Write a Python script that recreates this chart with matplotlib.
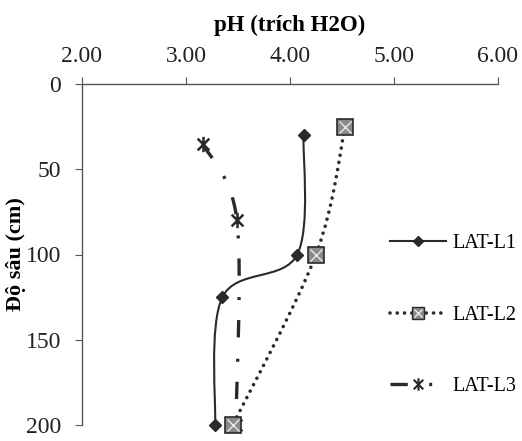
import matplotlib
matplotlib.use("Agg")
import matplotlib.pyplot as plt
from matplotlib.path import Path
from matplotlib.patches import PathPatch
from matplotlib.lines import Line2D
import numpy as np

# depth (cm) and pH
depth_l1 = [30, 100, 125, 200]
ph_l1 = [4.13, 4.07, 3.35, 3.28]
depth_l2 = [25, 100, 200]
ph_l2 = [4.53, 4.25, 3.45]
depth_l3 = [35, 80, 200]
ph_l3 = [3.16, 3.49, 3.48]
names = ["LAT-L1", "LAT-L2", "LAT-L3"]

xticks = [2, 3, 4, 5, 6]
yticks = [0, 50, 100, 150, 200]

plt.rcParams["font.family"] = ["Liberation Serif", "DejaVu Serif"]
ink = "#2a2a2a"


def smooth_path(x, y):
    # excel style smoothed line: cubic bezier through the points
    p = np.column_stack([x, y]).astype(float)
    n = len(p)
    verts = [p[0]]
    codes = [Path.MOVETO]
    for i in range(n - 1):
        prev = p[max(i - 1, 0)]
        nxt = p[min(i + 2, n - 1)]
        c1 = p[i] + (p[i + 1] - prev) / 6
        c2 = p[i + 1] - (nxt - p[i]) / 6
        verts += [c1, c2, p[i + 1]]
        codes += [Path.CURVE4] * 3
    return Path(verts, codes)


star = Path([(-1, -1), (1, 1), (-1, 1), (1, -1), (0, -1.3), (0, 1.3)],
            [Path.MOVETO, Path.LINETO, Path.MOVETO, Path.LINETO, Path.MOVETO, Path.LINETO])

fig = plt.figure(figsize=(5.22, 4.41), dpi=100)
ax = fig.add_axes([82 / 522, 16 / 441, 416 / 522, 341 / 441])

dotted = (0, (0.01, 2.0))
dashdot = (0, (5.2, 6.4, 0.9, 6.0))

ax.add_patch(PathPatch(smooth_path(ph_l1, depth_l1), fill=False, lw=1.5, color=ink,
                       clip_on=False))
ax.add_patch(PathPatch(smooth_path(ph_l3, depth_l3), fill=False, lw=2.4, color=ink,
                       linestyle=dashdot, capstyle="butt", clip_on=False))
ax.add_patch(PathPatch(smooth_path(ph_l2, depth_l2), fill=False, lw=2.6, color=ink,
                       linestyle=dotted, capstyle="round", clip_on=False))

ax.plot(ph_l1, depth_l1, ls="none", marker="D", ms=6, mfc=ink, mec=ink, clip_on=False)
ax.plot(ph_l3, depth_l3, ls="none", marker=star, ms=11, mfc="none", mec=ink, mew=1.8,
        clip_on=False)
ax.plot(ph_l2, depth_l2, ls="none", marker="s", ms=11, mfc="#8a8a8a", mec=ink, mew=1.2,
        clip_on=False)
ax.plot(ph_l2, depth_l2, ls="none", marker="x", ms=8, mec="#e8e8e8", mew=1.0,
        clip_on=False)

ax.set_xlim(2, 6)
ax.set_ylim(200, 0)
ax.xaxis.tick_top()
ax.xaxis.set_label_position("top")
ax.set_xticks(xticks)
ax.set_xticklabels([f"{v:.2f}" for v in xticks])
ax.set_yticks(yticks)
ax.tick_params(labelsize=17, colors="#555555", labelcolor="#222222", length=5,
               direction="out")
ax.tick_params(axis="x", pad=7)
ax.tick_params(axis="y", pad=10)
for s in ["right", "bottom"]:
    ax.spines[s].set_visible(False)
for s in ["top", "left"]:
    ax.spines[s].set_color("#555555")
    ax.spines[s].set_linewidth(1.0)

ax.set_xlabel("pH (trích H2O)", fontsize=16.5, fontweight="bold", labelpad=11)
ax.set_ylabel("Độ sâu (cm)", fontsize=16, fontweight="bold", labelpad=0)

h1 = Line2D([], [], color=ink, lw=1.5, marker="D", ms=5)
h2a = Line2D([], [], color=ink, lw=2.6, linestyle=dotted, dash_capstyle="round",
             marker="s", ms=8, mfc="#8a8a8a", mec=ink)
h2b = Line2D([], [], ls="none", marker="x", ms=6, mec="#e8e8e8")
h3 = Line2D([], [], color=ink, lw=2.4, linestyle=dashdot, marker=star, ms=9,
            mfc="none", mec=ink, mew=1.5)
fig.legend([h1, (h2a, h2b), h3], names, loc="upper left",
           bbox_to_anchor=(380 / 522, 1 - 224 / 441), frameon=False, fontsize=14.5,
           handlelength=2.8, handletextpad=0.3, labelspacing=2.6, borderpad=0)

fig.savefig("out.png", dpi=100, facecolor="white")
